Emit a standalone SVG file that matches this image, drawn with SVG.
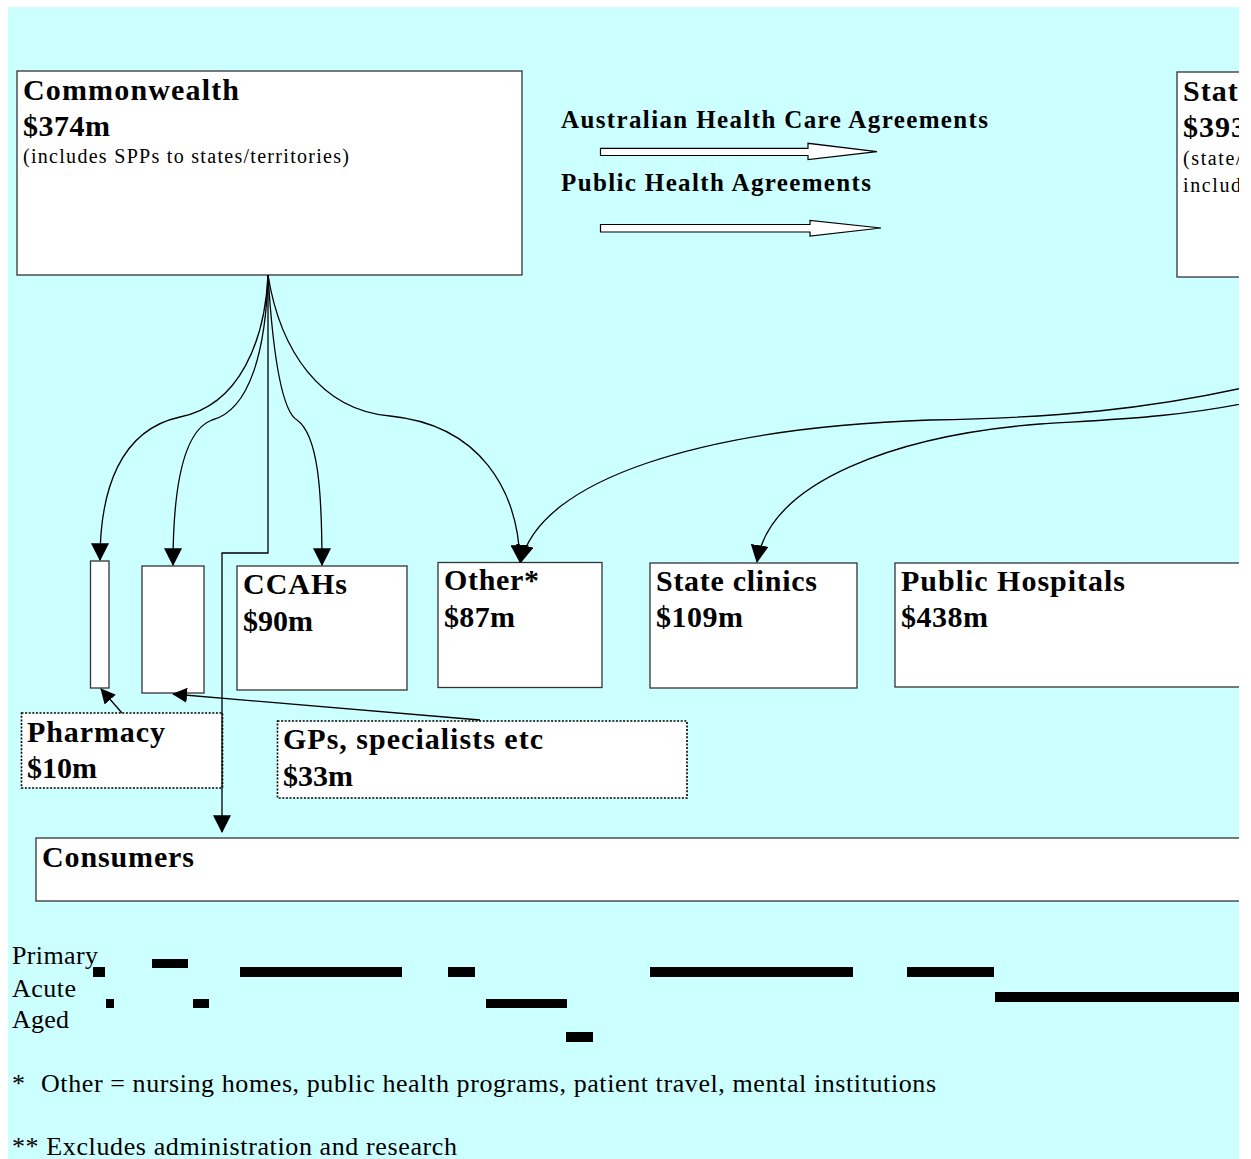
<svg xmlns="http://www.w3.org/2000/svg" width="1251" height="1159" viewBox="0 0 1251 1159">
<defs>
<clipPath id="clip"><rect x="0" y="0" width="1239" height="1159"/></clipPath>
<marker id="ah" markerUnits="userSpaceOnUse" markerWidth="18" markerHeight="18" viewBox="0 0 16 16" refX="15" refY="8" orient="auto">
<path d="M0,0 L16,8 L0,16 Z" fill="#000"/>
</marker>
<marker id="ahs" markerUnits="userSpaceOnUse" markerWidth="15" markerHeight="15" viewBox="0 0 16 16" refX="15" refY="8" orient="auto">
<path d="M0,0 L16,8 L0,16 Z" fill="#000"/>
</marker>
</defs>
<style>
.box{fill:#fff;stroke:#333;stroke-width:1.3}
.dot{fill:#fff;stroke:#000;stroke-width:1.6;stroke-dasharray:2 1.6}
.h{font-family:"Liberation Serif","Times New Roman",serif;font-weight:bold;font-size:30px;fill:#000}
.ag{font-family:"Liberation Serif","Times New Roman",serif;font-weight:bold;font-size:25px;fill:#000}
.s{font-family:"Liberation Serif","Times New Roman",serif;font-size:20px;fill:#000}
.n{font-family:"Liberation Serif","Times New Roman",serif;font-size:26px;fill:#000}
.c{fill:none;stroke:#000;stroke-width:1.3}
.bar{fill:#000}
.ha{fill:#fff;stroke:#000;stroke-width:1.2}
</style>
<rect x="0" y="0" width="1251" height="1159" fill="#fff"/>
<rect x="8" y="7" width="1231" height="1152" fill="#CCFFFF"/>
<g clip-path="url(#clip)">
<g id="commonwealth">
<rect class="box" x="17" y="71" width="505" height="204"/>
<text class="h" x="23" y="100" textLength="216" lengthAdjust="spacing">Commonwealth</text>
<text class="h" x="23" y="136" textLength="87" lengthAdjust="spacing">$374m</text>
<text class="s" x="23" y="163" textLength="326" lengthAdjust="spacing">(includes SPPs to states/territories)</text>
</g>
<g id="state">
<rect class="box" x="1177" y="72" width="100" height="205"/>
<text class="h" x="1183" y="101" letter-spacing="1">State</text>
<text class="h" x="1183" y="137" letter-spacing="1">$393m</text>
<text class="s" x="1183" y="165" letter-spacing="1.6">(state/</text>
<text class="s" x="1183" y="192" letter-spacing="1.6">includ</text>
</g>
<g id="agreements">
<text class="ag" x="561" y="128" textLength="427" lengthAdjust="spacing">Australian Health Care Agreements</text>
<polygon class="ha" points="600.5,148.3 808,148.3 808,143.3 877,151.7 808,159.5 808,155.5 600.5,155.5"/>
<text class="ag" x="561" y="191" textLength="310" lengthAdjust="spacing">Public Health Agreements</text>
<polygon class="ha" points="600.5,224.5 810,224.5 810,220.5 881,228 810,236 810,232 600.5,232"/>
</g>
<g id="pharmacy-bar"><rect class="box" x="90.5" y="561" width="18.5" height="127"/></g>
<g id="gps-bar"><rect class="box" x="142" y="566" width="62" height="127"/></g>
<g id="ccahs">
<rect class="box" x="237" y="566" width="170" height="124"/>
<text class="h" x="243" y="594" textLength="104" lengthAdjust="spacing">CCAHs</text>
<text class="h" x="243" y="631" textLength="70" lengthAdjust="spacing">$90m</text>
</g>
<g id="other">
<rect class="box" x="438" y="562.5" width="164" height="125"/>
<text class="h" x="444" y="590" textLength="95" lengthAdjust="spacing">Other*</text>
<text class="h" x="444" y="627" textLength="71" lengthAdjust="spacing">$87m</text>
</g>
<g id="state-clinics">
<rect class="box" x="650" y="563" width="207" height="125"/>
<text class="h" x="656" y="591" textLength="161" lengthAdjust="spacing">State clinics</text>
<text class="h" x="656" y="627" textLength="87" lengthAdjust="spacing">$109m</text>
</g>
<g id="public-hospitals">
<rect class="box" x="895" y="563" width="380" height="124"/>
<text class="h" x="901" y="591" textLength="224" lengthAdjust="spacing">Public Hospitals</text>
<text class="h" x="901" y="627" textLength="87" lengthAdjust="spacing">$438m</text>
</g>
<g id="pharmacy">
<rect class="dot" x="21.5" y="713" width="201" height="75"/>
<text class="h" x="27" y="742" textLength="138" lengthAdjust="spacing">Pharmacy</text>
<text class="h" x="27" y="778" textLength="70" lengthAdjust="spacing">$10m</text>
</g>
<g id="gps">
<rect class="dot" x="277.5" y="721" width="409.5" height="77"/>
<text class="h" x="283" y="749" textLength="260" lengthAdjust="spacing">GPs, specialists etc</text>
<text class="h" x="283" y="786" textLength="70" lengthAdjust="spacing">$33m</text>
</g>
<g id="consumers">
<rect class="box" x="36" y="838" width="1240" height="63"/>
<text class="h" x="42" y="867" textLength="152" lengthAdjust="spacing">Consumers</text>
</g>
<g id="connectors">
<path class="c" marker-end="url(#ah)" d="M268,275 C265,340 240,405 180,417 C120,430 100,490 100,560"/>
<path class="c" marker-end="url(#ah)" d="M268,275 C266,350 250,410 212,420 C185,430 173,480 173,565"/>
<path class="c" marker-end="url(#ah)" d="M268,275 V553 H222 V832"/>
<path class="c" marker-end="url(#ah)" d="M268,275 C272,340 280,410 297,420 C318,435 322,490 322,565"/>
<path class="c" marker-end="url(#ah)" d="M268,275 C280,350 320,410 390,416 C480,425 518,490 520,562"/>
<path class="c" marker-end="url(#ah)" d="M1260,384 C1150,410 1050,418 930,420 C700,428 540,480 521,562"/>
<path class="c" marker-end="url(#ah)" d="M1260,400 C1180,418 1100,420 1040,424 C900,435 770,480 757,562"/>
<path class="c" marker-end="url(#ahs)" d="M122,713 L101,689"/>
<path class="c" marker-end="url(#ahs)" d="M480,720 L173,694"/>
</g>
<g id="legend">
<text class="n" x="12" y="964" textLength="86" lengthAdjust="spacing">Primary</text>
<text class="n" x="12" y="997" textLength="64" lengthAdjust="spacing">Acute</text>
<text class="n" x="12" y="1028" textLength="57" lengthAdjust="spacing">Aged</text>
<rect class="bar" x="93" y="967" width="12" height="10"/>
<rect class="bar" x="152" y="959" width="36" height="9"/>
<rect class="bar" x="240" y="967" width="162" height="10"/>
<rect class="bar" x="448" y="967" width="27" height="10"/>
<rect class="bar" x="650" y="967" width="203" height="10"/>
<rect class="bar" x="907" y="967" width="87" height="10"/>
<rect class="bar" x="106" y="999" width="8" height="9"/>
<rect class="bar" x="193" y="999" width="16" height="9"/>
<rect class="bar" x="486" y="999" width="81" height="9"/>
<rect class="bar" x="995" y="992" width="250" height="10"/>
<rect class="bar" x="566" y="1032" width="27" height="10"/>
</g>
<g id="notes">
<text class="n" x="12" y="1092">*</text>
<text class="n" x="41" y="1092" textLength="895" lengthAdjust="spacing">Other = nursing homes, public health programs, patient travel, mental institutions</text>
<text class="n" x="12" y="1155" textLength="445" lengthAdjust="spacing">** Excludes administration and research</text>
</g>
</g>
</svg>
